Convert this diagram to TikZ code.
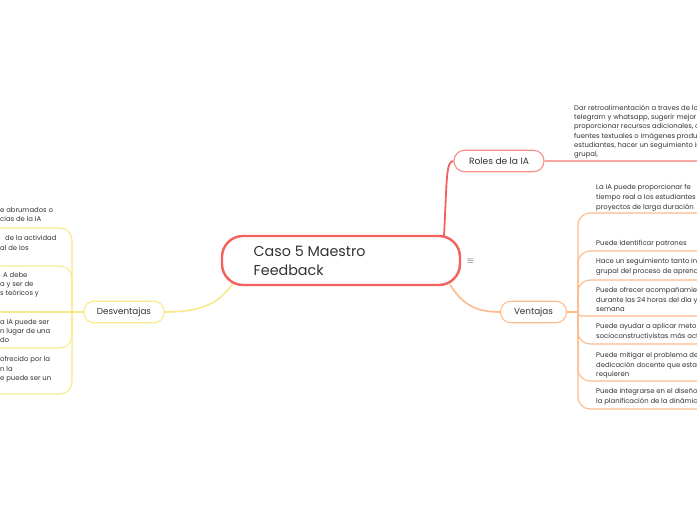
\documentclass[tikz,border=0pt]{standalone}
\usepackage{fontspec}
\setmainfont{Poppins}
\definecolor{cred}{HTML}{F2615C}
\definecolor{rolesb}{HTML}{F58E89}
\definecolor{rolesl}{HTML}{F9A7A3}
\definecolor{orl}{HTML}{FDBB8C}
\definecolor{yel}{HTML}{FAE98A}
\definecolor{txt}{HTML}{333333}
\pgfdeclarelayer{bg}
\pgfsetlayers{bg,main}
\begin{document}
\begin{tikzpicture}[x=1pt,y=-1pt,
  pill/.style={draw, fill=white, line width=1.1pt, rounded corners=10.5pt, minimum height=21.5pt, inner sep=0pt, text=txt, font=\fontsize{8.8}{10}\selectfont},
  itemtxt/.style={anchor=north west, inner sep=0pt, align=left, text=txt, font=\fontsize{6.85}{9.6}\selectfont},
  ditemtxt/.style={anchor=north west, inner sep=0pt, align=left, text=txt, font=\fontsize{6.85}{9.1}\selectfont},
  vline/.style={orl, line width=1.1pt},
  dline/.style={yel, line width=1.1pt}]
\begin{pgfonlayer}{bg}
\fill[white] (0,0) rectangle (697,520);
\end{pgfonlayer}
\useasboundingbox (0,0) rectangle (697,520);

% central
\node[draw=cred, line width=2.4pt, fill=white, rounded corners=21pt, minimum width=238pt, minimum height=49pt, inner sep=0pt] (c) at (341,260.5) {};
\node[anchor=west, align=left, inner sep=0pt, text=txt, font=\fontsize{14.3}{18.5}\selectfont] (ct) at (253.5,261) {Caso 5 Maestro\\Feedback};
\node[text=txt, font=\fontsize{9}{10}\selectfont, inner sep=0pt] (menu) at (470.5,261) {$\equiv$};

% level 1
\node[pill, draw=rolesb, minimum width=90pt, font=\fontsize{9.1}{10}\selectfont] (roles) at (499,161) {Roles de la IA};
\node[pill, draw=orl, minimum width=66pt] (vent) at (533.5,312) {Ventajas};
\node[pill, draw=yel, minimum width=81pt] (des) at (124,312) {Desventajas};

\coordinate (rootR) at (444,236.5);
\coordinate (rootV) at (450,284.5);
\coordinate (rootD) at (233,283);
\coordinate (vt) at (578,312);
\coordinate (dt) at (72,312);

\begin{pgfonlayer}{bg}
\draw[cred, line width=1.8pt] (rootR) .. controls (447,178) and (446,161) .. (roles.west);
\draw[orl, line width=1.6pt] (rootV) .. controls (463,306) and (478,312) .. (vent.west);
\draw[yel, line width=1.6pt] (rootD) .. controls (221,301) and (205,312) .. (des.east);
\end{pgfonlayer}

% roles child
\draw[rolesl, line width=1.3pt] (roles.east) -- (697,161);
\node[itemtxt, font=\fontsize{6.85}{9.3}\selectfont] (rt) at (574,104.5) {Dar retroalimentación a traves de lo\\telegram y whatsapp, sugerir mejor\\proporcionar recursos adicionales, c\\fuentes textuales o imágenes produ\\estudiantes, hacer un seguimiento in\\grupal,};

% ventajas children
\draw[vline] (vent.east) -- (vt);
\draw[vline, rounded corners=12pt] (vt) |- (697,213);
\draw[vline, rounded corners=12pt] (vt) |- (697,251);
\draw[vline, rounded corners=12pt] (vt) |- (697,280);
\draw[vline, rounded corners=3pt] (vt) |- (697,316);
\draw[vline, rounded corners=12pt] (vt) |- (697,344);
\draw[vline, rounded corners=12pt] (vt) |- (697,381);
\draw[vline, rounded corners=12pt] (vt) |- (697,409);
\node[itemtxt] (v1) at (596,184.5) {La IA puede proporcionar fe\\tiempo real a los estudiantes\\proyectos de larga duración};
\node[itemtxt] (v2) at (596,240.5) {Puede identificar patrones};
\node[itemtxt] (v3) at (596,258.5) {Hace un seguimiento tanto ind\\grupal del proceso de aprend};
\node[itemtxt] (v4) at (596,287) {Puede ofrecer acompañamien\\durante las 24 horas del día y\\semana};
\node[itemtxt] (v5) at (596,323.5) {Puede ayudar a aplicar meto\\socioconstructivistas más act};
\node[itemtxt] (v6) at (596,352) {Puede mitigar el problema de\\dedicación docente que estas\\requieren};
\node[itemtxt] (v7) at (596,388.5) {Puede integrarse en el diseño\\la planificación de la dinámic};

% desventajas children
\draw[dline] (des.west) -- (0,312);
\draw[dline, rounded corners=12pt] (dt) |- (0,228);
\draw[dline, rounded corners=12pt] (dt) |- (0,266);
\draw[dline, rounded corners=12pt] (dt) |- (0,348);
\draw[dline, rounded corners=12pt] (dt) |- (0,394);
\node[ditemtxt] (d1) at (0,207.5) {e abrumados o\\cias de la IA};
\node[ditemtxt] (d2) at (0,235.5) {\hspace{5pt}de la actividad\\al de los};
\node[ditemtxt] (d3) at (0,272.5) {\hspace{3pt}A debe\\a y ser de\\s teóricos y};
\node[ditemtxt] (d4) at (0,319.5) {a IA puede ser\\n lugar de una\\do};
\node[ditemtxt] (d5) at (0,356.5) {ofrecido por la\\n la\\e puede ser un};
\end{tikzpicture}
\end{document}
